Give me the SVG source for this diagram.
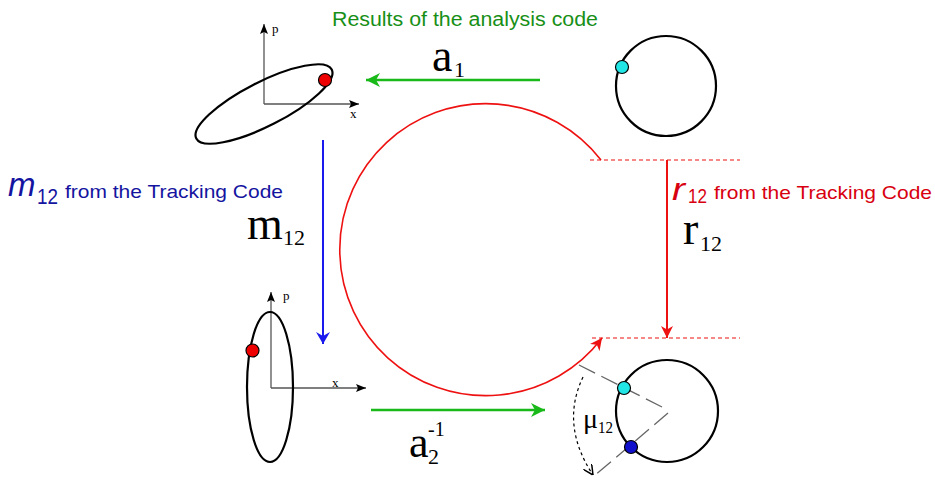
<svg xmlns="http://www.w3.org/2000/svg" width="935" height="481" viewBox="0 0 935 481">
<style>
.ax{stroke:#555;stroke-width:1.3;fill:none}
.orb{stroke:#000;stroke-width:2.2;fill:none}
.dot{stroke:#000;stroke-width:1.2}
.sans{font-family:"Liberation Sans",Arial,sans-serif}
.serif{font-family:"Liberation Serif","Times New Roman",serif;fill:#000}
.gd{stroke:#666;stroke-width:1.3;stroke-dasharray:18 7;fill:none}
.rd{stroke:#ee1111;stroke-width:1.2;stroke-dasharray:4 3;fill:none}
</style>
<defs>
<marker id="ak" viewBox="0 0 10 8" refX="10" refY="4" markerWidth="10" markerHeight="8" markerUnits="userSpaceOnUse" orient="auto"><path d="M0,0 L10,4 L0,8 L2,4 z" fill="#000"/></marker>
<marker id="ag" viewBox="0 0 14 14" refX="14" refY="7" markerWidth="14" markerHeight="14" markerUnits="userSpaceOnUse" orient="auto"><path d="M0,0 L14,7 L0,14 L4,7 z" fill="#19b919"/></marker>
<marker id="ab" viewBox="0 0 12 14" refX="12" refY="7" markerWidth="12" markerHeight="14" markerUnits="userSpaceOnUse" orient="auto"><path d="M0,0 L12,7 L0,14 L4,7 z" fill="#1a1aee"/></marker>
<marker id="ar" viewBox="0 0 12 12" refX="12" refY="6" markerWidth="12" markerHeight="12" markerUnits="userSpaceOnUse" orient="auto"><path d="M0,0 L12,6 L0,12 L3.5,6 z" fill="#ee1111"/></marker>
<marker id="adk" viewBox="0 0 10 10" refX="10" refY="5" markerWidth="10" markerHeight="10" markerUnits="userSpaceOnUse" orient="auto"><path d="M0,0 L10,5 L0,10" fill="none" stroke="#000" stroke-width="1.5"/></marker>
</defs>
<rect width="935" height="481" fill="#fff"/>

<g id="node-phase-top">
<line class="ax" x1="264" y1="104" x2="264" y2="24" marker-end="url(#ak)"/>
<line class="ax" x1="264" y1="104" x2="359" y2="104" marker-end="url(#ak)"/>
<ellipse class="orb" cx="264" cy="104" rx="76" ry="22" transform="rotate(-27 264 104)"/>
<circle class="dot" cx="325" cy="80" r="6.5" fill="#ee0000"/>
<text class="serif" x="272" y="33" font-size="13">p</text>
<text class="serif" x="350" y="118" font-size="13">x</text>
</g>

<g id="node-circle-top">
<circle class="orb" cx="666" cy="86" r="50"/>
<circle class="dot" cx="622" cy="67" r="6.5" fill="#22e5e5"/>
</g>

<g id="node-phase-bottom">
<line class="ax" x1="271" y1="388" x2="271" y2="292" marker-end="url(#ak)"/>
<line class="ax" x1="271" y1="388" x2="366" y2="388" marker-end="url(#ak)"/>
<ellipse class="orb" cx="270" cy="387" rx="23" ry="75"/>
<circle class="dot" cx="252.5" cy="350.5" r="6.5" fill="#ee0000"/>
<text class="serif" x="283" y="300" font-size="13">p</text>
<text class="serif" x="332" y="387" font-size="13">x</text>
</g>

<g id="node-circle-bottom">
<circle class="orb" cx="667" cy="411" r="51"/>
<line class="gd" x1="579" y1="365" x2="668" y2="410"/>
<line class="gd" x1="668" y1="413" x2="593" y2="477"/>
<path d="M583,377 Q560,425 593,475" fill="none" stroke="#000" stroke-width="1.2" stroke-dasharray="3 3" marker-end="url(#adk)"/>
<circle class="dot" cx="624" cy="388" r="6.5" fill="#22e5e5"/>
<circle class="dot" cx="631" cy="447" r="6.5" fill="#1010cc"/>
<text class="serif" x="583" y="428" font-size="27" textLength="15" lengthAdjust="spacingAndGlyphs">μ</text>
<text class="serif" x="598" y="433" font-size="16" textLength="15" lengthAdjust="spacingAndGlyphs">12</text>
</g>

<g id="connectors">
<line x1="540" y1="80" x2="366" y2="80" stroke="#19b919" stroke-width="2.5" marker-end="url(#ag)"/>
<line x1="371" y1="410" x2="545" y2="410" stroke="#19b919" stroke-width="2.5" marker-end="url(#ag)"/>
<line x1="323" y1="140" x2="323" y2="344" stroke="#1a1aee" stroke-width="2" marker-end="url(#ab)"/>
<line x1="667" y1="160" x2="667" y2="338" stroke="#ee1111" stroke-width="2" marker-end="url(#ar)"/>
<path d="M601,160 A146,146 0 1 0 602,338" fill="none" stroke="#ee1111" stroke-width="1.6" marker-end="url(#ar)"/>
<line class="rd" x1="590" y1="160" x2="740" y2="160"/>
<line class="rd" x1="592" y1="338" x2="740" y2="338"/>
</g>

<g id="labels">
<text class="sans" x="332" y="26" font-size="20" fill="#178f17" textLength="266" lengthAdjust="spacingAndGlyphs">Results of the analysis code</text>
<text class="serif" x="432" y="71" font-size="46">a</text>
<text class="serif" x="454" y="77" font-size="22">1</text>
<text class="sans" x="8" y="196" font-size="33" font-style="italic" fill="#1414a0">m</text>
<text class="sans" x="37" y="204" font-size="22" fill="#1414a0" textLength="21" lengthAdjust="spacingAndGlyphs">12</text>
<text class="sans" x="65" y="198" font-size="19" fill="#1414a0" textLength="218" lengthAdjust="spacingAndGlyphs">from the Tracking Code</text>
<text class="serif" x="247" y="239" font-size="46">m</text>
<text class="serif" x="283" y="245" font-size="22">12</text>
<text class="sans" x="672" y="200" font-size="32" font-style="italic" fill="#d80010" textLength="13" lengthAdjust="spacingAndGlyphs">r</text>
<text class="sans" x="688" y="203" font-size="21" fill="#d80010" textLength="19" lengthAdjust="spacingAndGlyphs">12</text>
<text class="sans" x="714" y="199" font-size="19" fill="#d80010" textLength="218" lengthAdjust="spacingAndGlyphs">from the Tracking Code</text>
<text class="serif" x="683" y="244" font-size="46">r</text>
<text class="serif" x="700" y="251" font-size="22">12</text>
<text class="serif" x="409" y="457" font-size="44">a</text>
<text class="serif" x="428" y="464" font-size="22">2</text>
<text class="serif" x="428" y="436" font-size="20">-1</text>
</g>
</svg>
